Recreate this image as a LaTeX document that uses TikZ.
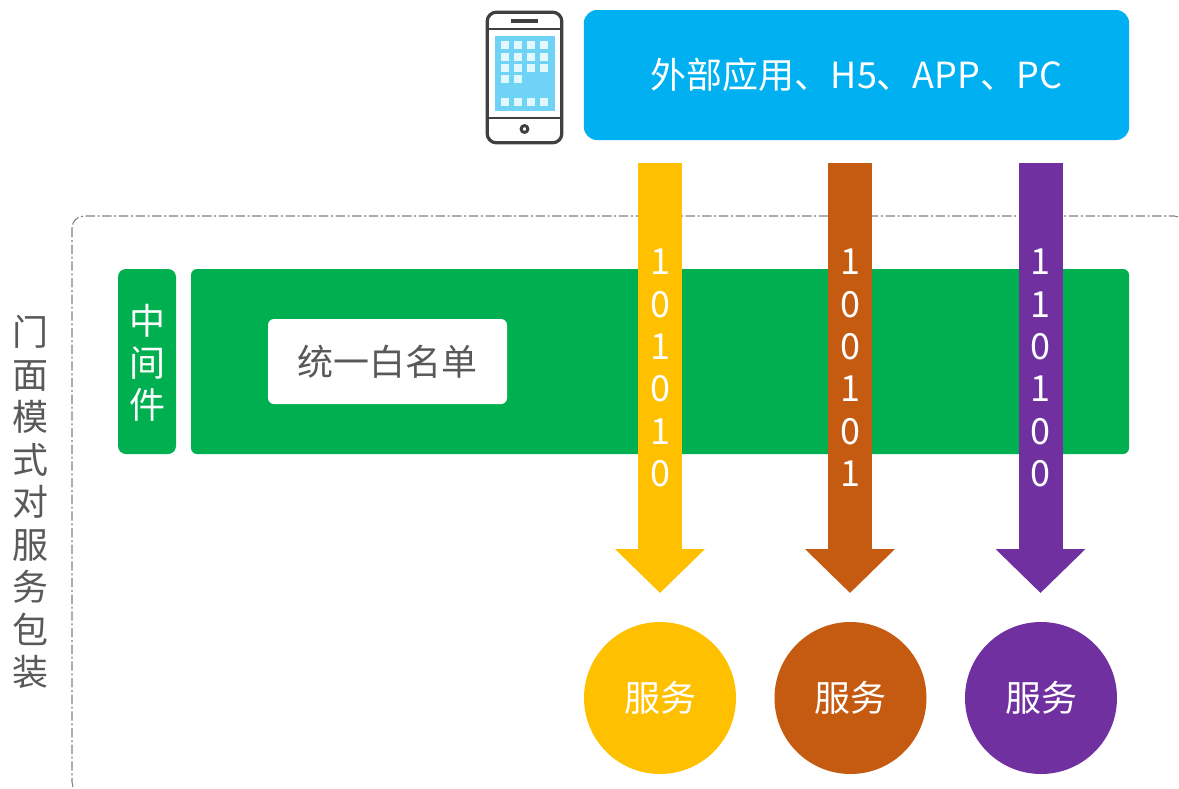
\documentclass[tikz,border=0pt]{standalone}
\usepackage{fontspec}
\setmainfont{Noto Sans CJK SC}
\usetikzlibrary{arrows.meta}
\definecolor{appblue}{HTML}{00B0F0}
\definecolor{midgreen}{HTML}{00B050}
\definecolor{svcyellow}{HTML}{FFC000}
\definecolor{svcbrown}{HTML}{C55A11}
\definecolor{svcpurple}{HTML}{7030A0}
\definecolor{labelgray}{HTML}{595959}
\definecolor{phoneline}{HTML}{404040}
\definecolor{phonescreen}{HTML}{6FD3F6}
\definecolor{phonetile}{HTML}{E2F8FE}
\tikzset{
  bigtext/.style={font=\fontsize{27pt}{32pt}\selectfont},
  svcarrow/.style={line width=33pt,-{Triangle[length=33pt,width=65.5pt]}},
  svccircle/.style={circle,minimum size=114pt,inner sep=0pt,text=white,bigtext},
  column/.style={matrix,inner sep=0pt,row sep=0pt,
    nodes={minimum size=#1,inner sep=0pt,text height=20pt,text depth=4pt,anchor=center,bigtext}},
}
\begin{document}
\begin{tikzpicture}[x=0.75pt,y=-0.75pt]
\useasboundingbox (0,0) rectangle (1179,789);
\clip (0,0) rectangle (1179,789);
\fill[white] (0,0) rectangle (1179,789);
% frame
\draw[gray,line width=0.8pt,rounded corners=9pt,dash pattern=on 7pt off 2pt on 1.5pt off 2pt] (72,216) rectangle (1186,794);
% side label
\node [column=31.9pt,text=labelgray] (side) at (31,505)
    {
        \node {门}; \\ \node {面}; \\ \node {模}; \\ \node {式}; \\ \node {对}; \\ \node {服}; \\ \node {务}; \\ \node {包}; \\ \node {装}; \\
};
% phone
\node [draw=phoneline,line width=2.4pt,rounded corners=7pt,minimum width=56pt,minimum height=98pt,inner sep=0pt] (phone) at (524.5,77.5) {};
\draw[phoneline,line width=2.2pt] (phone.west |- 0,29) -- (phone.east |- 0,29);
\draw[phoneline,line width=2.2pt] (phone.west |- 0,118) -- (phone.east |- 0,118);
\draw[phoneline,line width=2.4pt] (511,21) -- (538,21);
\fill[phonescreen] (495,36) rectangle (555,111);
\foreach \y in {45,57,68} {
  \foreach \x in {505,518,531,544} {
    \fill[phonetile] (\x-3.7,\y-3.7) rectangle (\x+3.7,\y+3.7);
  }
}
\foreach \x in {505,518} {
  \fill[phonetile] (\x-3.7,79-3.7) rectangle (\x+3.7,79+3.7);
}
\foreach \x in {505,518,531,544} {
  \fill[phonetile] (\x-3.7,102-3.7) rectangle (\x+3.7,102+3.7);
}
\draw[phoneline,line width=2.2pt] (524.5,129) circle (3.4);
% app box
\node [fill=appblue,rounded corners=10pt,minimum width=409pt,minimum height=97.5pt,inner sep=0pt,text=white,bigtext] (app) at (856.5,75) {外部应用、H5、APP、PC};
% middleware
\node [fill=midgreen,rounded corners=6pt,minimum width=43.5pt,minimum height=138.75pt,inner sep=0pt] (midtag) at (147,361.5) {};
\node [column=31.6pt,text=white] (midtext) at (147,366)
    {
        \node {中}; \\ \node {间}; \\ \node {件}; \\
};
\node [fill=midgreen,rounded corners=4.5pt,minimum width=703.5pt,minimum height=138.75pt,inner sep=0pt] (midbar) at (660,361.5) {};
\node [fill=white,rounded corners=4.5pt,minimum width=179.25pt,minimum height=63.75pt,inner sep=0pt,text=labelgray,bigtext] (whitelist) at (387.5,361.5) {统一白名单};
% arrows
\coordinate (a1) at (660,163);
\coordinate (b1) at (660,593);
\coordinate (a2) at (850,163);
\coordinate (b2) at (850,593);
\coordinate (a3) at (1040.5,163);
\coordinate (b3) at (1040.5,593);
\draw[svcarrow,svcyellow] (a1) -- (b1);
\draw[svcarrow,svcbrown] (a2) -- (b2);
\draw[svcarrow,svcpurple] (a3) -- (b3);
\node [column=31.8pt,text=white] (bits1) at (660,370)
    {
        \node {1}; \\ \node {0}; \\ \node {1}; \\ \node {0}; \\ \node {1}; \\ \node {0}; \\
};
\node [column=31.8pt,text=white] (bits2) at (850,370)
    {
        \node {1}; \\ \node {0}; \\ \node {0}; \\ \node {1}; \\ \node {0}; \\ \node {1}; \\
};
\node [column=31.8pt,text=white] (bits3) at (1040.5,370)
    {
        \node {1}; \\ \node {1}; \\ \node {0}; \\ \node {1}; \\ \node {0}; \\ \node {0}; \\
};
% services
\node [svccircle,fill=svcyellow] (svc1) at (660,698) {服务};
\node [svccircle,fill=svcbrown] (svc2) at (850.5,698) {服务};
\node [svccircle,fill=svcpurple] (svc3) at (1041,698) {服务};
\end{tikzpicture}
\end{document}
